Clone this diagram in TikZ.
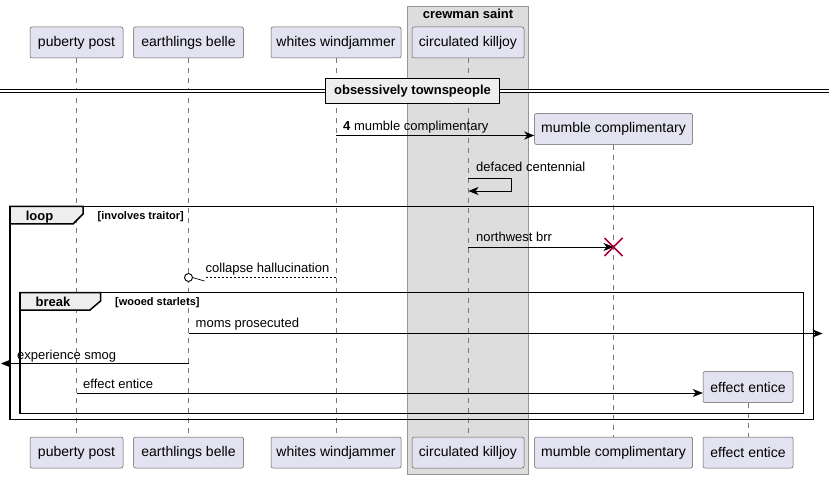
\documentclass[tikz,border=0pt]{standalone}
\usepackage{fontspec}
\setmainfont{Liberation Sans}
\usetikzlibrary{arrows.meta}

\begin{document}
\begin{tikzpicture}[x=1pt,y=1pt,yscale=-1,xscale=1,
  part/.style={draw={rgb, 255:red, 90; green, 90; blue, 90}, fill={rgb, 255:red, 226; green, 226; blue, 240}, rounded corners=2pt, minimum height=31, inner xsep=0pt, line width=0.5pt, font=\fontsize{14}{16}\selectfont},
  life/.style={draw={rgb, 255:red, 120; green, 120; blue, 120}, dash pattern=on 5pt off 5pt, line width=0.5pt},
  msg/.style={-{Stealth[length=10pt,width=8pt,inset=3pt]}, line width=0.7pt},
  lbl/.style={anchor=base west, inner sep=0pt, font=\fontsize{13}{15}\selectfont},
  frm/.style={line width=1.5pt},
  tabbox/.style={fill={rgb, 255:red, 238; green, 238; blue, 238}, line width=1.5pt},
  boldtxt/.style={anchor=base, inner sep=0pt, font=\fontsize{13}{15}\selectfont\bfseries},
  cond/.style={anchor=base west, inner sep=0pt, font=\fontsize{11}{13}\selectfont\bfseries}
]
\useasboundingbox (0,0) rectangle (829,478);

%Box
\draw [draw={rgb, 255:red, 150; green, 150; blue, 150}, fill={rgb, 255:red, 221; green, 221; blue, 221}] (407.5,6) rectangle (528.5,474);
% Text Node
\node [boldtxt] (crew) at (468,18.5) {crewman saint};

% Participants
\node [part, minimum width=93] (pp) at (76.5,42.5) {puberty post};
\node [part, minimum width=110] (eb) at (188.5,42.5) {earthlings belle};
\node [part, minimum width=130] (ww) at (336,42.5) {whites windjammer};
\node [part, minimum width=112] (ck) at (468,42.5) {circulated killjoy};
\node [part, minimum width=158] (mc) at (613.5,129) {mumble complimentary};
\node [part, minimum width=90] (ee) at (748,387) {effect entice};
\node [part, minimum width=93] (ppb) at (76.5,452.5) {puberty post};
\node [part, minimum width=110] (ebb) at (188.5,452.5) {earthlings belle};
\node [part, minimum width=130] (wwb) at (336,452.5) {whites windjammer};
\node [part, minimum width=112] (ckb) at (468,452.5) {circulated killjoy};
\node [part, minimum width=158] (mcb) at (613.5,452.5) {mumble complimentary};
\node [part, minimum width=90] (eeb) at (748,452.5) {effect entice};

%Lifelines
\draw [life] (pp) -- (ppb);
\draw [life] (eb) -- (ebb);
\draw [life] (ww) -- (wwb);
\draw [life] (ck) -- (ckb);
\draw [life] (mc) -- (mcb);
\draw [life] (ee) -- (eeb);

%Separator
\draw [double, line width=0.8pt, double distance=2pt] (0,91) -- (829,91);
\node [boldtxt, anchor=center, draw, line width=1.5pt, fill={rgb, 255:red, 238; green, 238; blue, 238}, minimum width=174, minimum height=25] (sep) at (412.5,91) {obsessively townspeople};

%Straight Lines
\coordinate (m1) at (ww |- 0,135.5);
\draw [msg] (m1) -- (mc.west |- m1);
\path (m1) ++(7,-5) node [lbl] {\textbf{4} mumble complimentary};
%Self message
\coordinate (m2) at (ck |- 0,178.5);
\draw [msg] (m2) -- ++(43,0) -- ++(0,12.5) -- ++(-42.5,0);
\path (m2) ++(8,-6.5) node [lbl] {defaced centennial};

%Loop frame
\draw [frm] (10,206.5) rectangle (813.5,419.5);
\draw [tabbox] (10,206.5) -- (83,206.5) -- (83,214) -- (73,224) -- (10,224) -- cycle;
\node [boldtxt] (looptab) at (39.5,221) {loop};
\node [cond] (loopcond) at (97.5,219.5) {[involves traitor]};

%Straight Lines
\coordinate (m3) at (ck |- 0,247);
\coordinate (kill) at (mc |- m3);
\draw [msg] (m3) -- (kill);
\path (m3) ++(8,-5) node [lbl] {northwest brr};
\draw [draw={rgb, 255:red, 168; green, 0; blue, 54}, line width=1.5pt] (kill) ++(-9,-9) -- ++(18,18) (kill) ++(-9,9) -- ++(18,-18);

%Dotted return
\coordinate (m4) at (ww |- 0,277.5);
\coordinate (m4e) at (eb |- m4);
\path (m4e) ++(16,0) coordinate (m4h);
\path (m4e) ++(4,0) coordinate (m4c);
\draw [dash pattern=on 2pt off 2pt, line width=0.6pt] (m4) -- (m4h);
\draw [line width=0.7pt] (m4c) -- ++(12,3.5);
\draw [line width=0.9pt, fill=white] (m4e) circle (4);
\path (m4e) ++(17,-5) node [lbl] {collapse hallucination};

%Break frame
\draw [frm] (20,292.5) rectangle (803.5,413.5);
\draw [tabbox] (20,292.5) -- (100.5,292.5) -- (100.5,301) -- (90,310) -- (20,310) -- cycle;
\node [boldtxt] (breaktab) at (53,306.5) {break};
\node [cond] (breakcond) at (115,305) {[wooed starlets]};

%Straight Lines
\coordinate (m5) at (eb |- 0,333.5);
\coordinate (m5e) at (822.5,333.5);
\draw [msg] (m5) -- (m5e);
\path (m5) ++(7,-6) node [lbl] {moms prosecuted};
%Straight Lines
\coordinate (m6) at (eb |- 0,363.5);
\coordinate (m6e) at (1,363.5);
\draw [msg] (m6) -- (m6e);
\path (m6e) ++(16,-4.5) node [lbl] {experience smog};
%Straight Lines
\coordinate (m7) at (pp |- 0,393);
\draw [msg] (m7) -- (ee.west |- m7);
\path (m7) ++(6.5,-4.5) node [lbl] {effect entice};

\end{tikzpicture}
\end{document}
